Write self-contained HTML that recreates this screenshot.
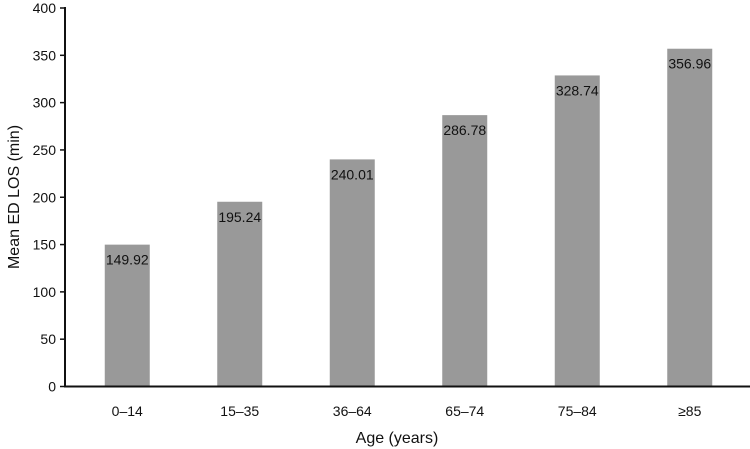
<!DOCTYPE html>
<html><head><meta charset="utf-8"><style>
html,body{margin:0;padding:0;background:#fff;}
svg{display:block;font-family:"Liberation Sans",Arial,sans-serif;}
</style></head><body>
<svg id="chart" width="750" height="449">
<g id="plot"></g>
<text x="397" y="443" font-size="16" text-anchor="middle" fill="#111">Age (years)</text>
<text transform="translate(19,197) rotate(-90)" font-size="16" text-anchor="middle" fill="#111">Mean ED LOS (min)</text>
</svg>
<script>
const categories = ["0–14","15–35","36–64","65–74","75–84","≥85"];
const values = [149.92,195.24,240.01,286.78,328.74,356.96];
const valueLabels = ["149.92","195.24","240.01","286.78","328.74","356.96"];
const yTicks = [0,50,100,150,200,250,300,350,400];

const NS="http://www.w3.org/2000/svg";
const g=document.getElementById('plot');
const y0=386.5, y400=8, xLeft=65, xRight=750;
const bandStart=71, band=112.5, barW=45;
function yScale(v){return y0-(v/400)*(y0-y400);}
function xCenter(i){return bandStart+band*(i+0.5);}
function mk(tag,attrs){const e=document.createElementNS(NS,tag);for(const k in attrs)e.setAttribute(k,attrs[k]);g.appendChild(e);return e;}

values.forEach((v,i)=>{
  const r=mk('rect',{x:xCenter(i)-barW/2,y:yScale(v),width:barW,height:y0-yScale(v),fill:'#999999'});
  
  
  const t=mk('text',{x:xCenter(i),y:yScale(v)+20,'font-size':'14','text-anchor':'middle',fill:'#111'});
  t.textContent=valueLabels[i];
  
  
  const c=mk('text',{x:xCenter(i),y:416,'font-size':'14','text-anchor':'middle',fill:'#111'});
  c.textContent=categories[i];
  
  
});
yTicks.forEach(v=>{
  const l=mk('line',{x1:xLeft-5,x2:xLeft,y1:yScale(v),y2:yScale(v),stroke:'#111','stroke-width':1.5});
  
  
  const t=mk('text',{x:xLeft-9,y:yScale(v)+5,'font-size':'14','text-anchor':'end',fill:'#111'});
  t.textContent=v;
  
  
});
const ya=mk('line',{x1:xLeft,x2:xLeft,y1:y400-1,y2:y0,stroke:'#111','stroke-width':2});


const xa=mk('line',{x1:xLeft-1,x2:xRight,y1:y0,y2:y0,stroke:'#111','stroke-width':2});


</script>
</body></html>
